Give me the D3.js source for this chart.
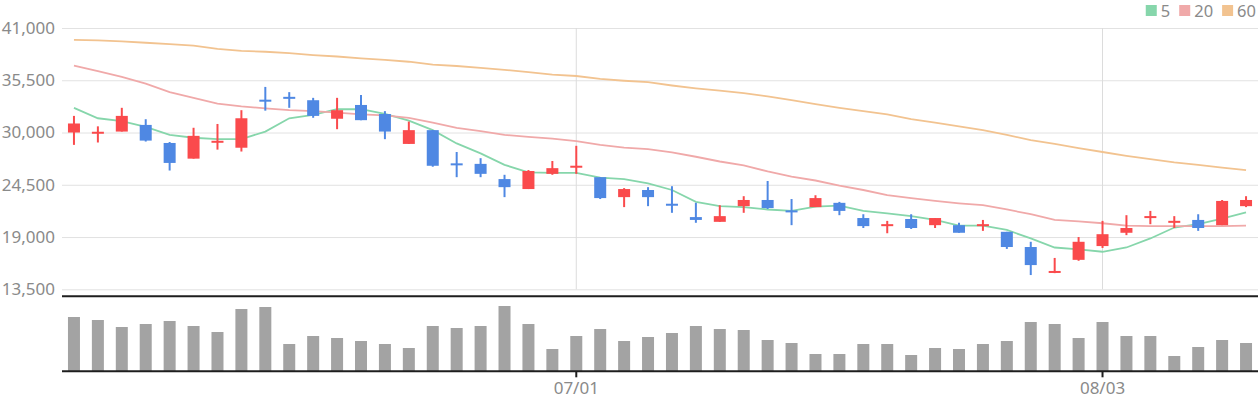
<!DOCTYPE html>
<html>
<head>
<meta charset="utf-8">
<script src="https://cdn.jsdelivr.net/npm/d3@7"></script>
<style>
  html, body { margin: 0; padding: 0; background: #fff; }
  svg { display: block; font-family: "Noto Sans", "Open Sans", sans-serif; }
</style>
</head>
<body>
<svg id="chart" width="1260" height="400"></svg>
<script>
const dates = [
  "06/02","06/03","06/04","06/05","06/08","06/09","06/10","06/11","06/12","06/15",
  "06/16","06/17","06/18","06/19","06/22","06/23","06/24","06/25","06/26","06/29",
  "06/30","07/01","07/02","07/06","07/07","07/08","07/09","07/10","07/13","07/14",
  "07/15","07/16","07/17","07/20","07/21","07/22","07/23","07/24","07/27","07/28",
  "07/29","07/30","07/31","08/03","08/04","08/05","08/06","08/07","08/10","08/11"
];
const opens = [
  30000,29950,30100,30800,28900,27250,28950,28400,33400,33700,
  33400,31450,32900,31950,28800,30250,26700,26700,25100,24050,
  25650,26350,25300,23200,23950,22450,21100,20600,22250,22900,
  21750,22150,22600,21000,20200,20900,20250,20250,20200,19550,
  17950,15300,16600,18050,19450,21050,20550,20800,20250,22250
];
const highs = [
  31750,30650,32600,31400,29000,30500,30900,32350,34800,34250,
  33650,33650,33950,32250,31150,30250,27950,27300,25550,26050,
  27000,28600,25300,24150,24250,24350,22600,22350,23300,24900,
  23000,23400,22700,21400,20700,21400,21000,20500,20800,19550,
  18500,16800,19000,20700,21300,21750,21200,21400,22900,23300
];
const lows = [
  28700,28950,30100,29050,26000,27250,28200,28000,32300,32600,
  31550,30350,31300,29300,28800,26400,25300,25300,23200,24050,
  25550,25650,23000,22150,22250,21550,20500,20600,21550,21950,
  20250,22150,21300,19950,19400,19850,19950,19450,19650,17750,
  15000,15200,16500,17850,19200,20350,19950,19650,20250,22150
];
const closes = [
  30950,30000,31750,29150,26800,29650,29100,31500,33300,33600,
  31750,32350,31300,30100,30250,26500,26600,25650,24250,25950,
  26250,26450,23100,24050,23200,22350,20800,21200,22900,22050,
  21650,23100,21750,20150,20300,19950,21000,19450,20300,17950,
  16050,15350,18500,19300,19950,21150,20650,19950,22800,22900
];
const volumes = [
  543000,513000,443000,473000,503000,453000,393000,623000,643000,273000,
  353000,333000,303000,273000,233000,453000,433000,453000,653000,473000,
  223000,353000,423000,303000,343000,383000,453000,423000,413000,313000,
  283000,173000,173000,273000,273000,163000,233000,223000,273000,303000,
  493000,473000,333000,493000,353000,353000,153000,243000,313000,283000
];
const ma5 = [
  32600,31500,31200,30600,29750,29450,29300,29300,30100,31500,
  31850,32450,32450,31950,31250,30250,28850,27800,26600,25800,
  25750,25750,25250,25100,24650,23950,22700,22250,22150,21900,
  21750,22200,22300,21750,21500,21200,20800,20200,20200,19750,
  18850,17900,17700,17450,17900,18850,20000,20350,20950,21600
];
const ma20 = [
  37050,36450,35850,35150,34250,33650,33050,32750,32550,32350,
  32250,32100,31900,31800,31550,31050,30500,30150,29750,29550,
  29350,29100,28700,28400,28250,27900,27450,26950,26550,25900,
  25350,24950,24400,23950,23400,23100,22800,22550,22350,21900,
  21400,20800,20650,20450,20200,20150,20150,20150,20150,20200
];
const ma60 = [
  39750,39700,39600,39450,39300,39150,38800,38600,38500,38350,
  38150,38000,37800,37650,37450,37150,37000,36800,36600,36350,
  36100,35950,35650,35450,35300,34950,34650,34400,34150,33800,
  33400,33000,32600,32250,31900,31400,31050,30650,30250,29750,
  29200,28800,28350,27950,27550,27200,26850,26600,26300,26050
];
const priceTicks = [13500, 19000, 24500, 30000, 35500, 41000];
const xTickLabels = ["07/01", "08/03"];
const maSeries = [
  { name: "5",  values: ma5,  color: "#86d6ab" },
  { name: "20", values: ma20, color: "#f0a9a9" },
  { name: "60", values: ma60, color: "#f2c390" }
];

const svg = d3.select("#chart");
const left = 62, right = 1258;
const priceTop = 28, priceBottom = 289.3;
const volTop = 297, volBottom = 371.3;
const upColor = "#fa4a4c", downColor = "#4f88e3";
const textColor = "#8a8a8a";

const x = d3.scaleBand().domain(dates).range([left, right]).padding(0);
const y = d3.scaleLinear().domain([13500, 41000]).range([priceBottom, priceTop]);
const yv = d3.scaleLinear().domain([0, 740000]).range([volBottom, volBottom - 74]);
const cx = d => x(d) + x.bandwidth() / 2;
const bodyW = 12;

// horizontal grid + y labels
const yAxis = d3.axisLeft(y).tickValues(priceTicks).tickSize(-(right - left)).tickPadding(7)
  .tickFormat(d3.format(","));
const gy = svg.append("g").attr("transform", `translate(${left},0)`).call(yAxis);
gy.select(".domain").remove();
gy.selectAll(".tick line").attr("stroke", "#e2e2e2").attr("stroke-width", 1);
gy.selectAll(".tick text").attr("fill", textColor).attr("font-size", 17)
  .attr("font-family", "'Noto Sans', sans-serif");

// vertical grid at month starts
svg.append("g").selectAll("line").data(xTickLabels).join("line")
  .attr("x1", d => cx(d)).attr("x2", d => cx(d))
  .attr("y1", priceTop).attr("y2", priceBottom)
  .attr("stroke", "#dcdcdc").attr("stroke-width", 1);

// moving average lines
const line = d3.line().x((v, i) => cx(dates[i])).y(v => y(v));
svg.append("g").selectAll("path").data(maSeries).join("path")
  .attr("d", s => line(s.values)).attr("fill", "none")
  .attr("stroke", s => s.color).attr("stroke-width", 1.8);

// candles
const idx = d3.range(dates.length);
const candles = svg.append("g").selectAll("g").data(idx).join("g")
  .attr("fill", i => closes[i] >= opens[i] ? upColor : downColor)
  .attr("stroke", i => closes[i] >= opens[i] ? upColor : downColor);
candles.append("line")
  .attr("x1", i => cx(dates[i])).attr("x2", i => cx(dates[i]))
  .attr("y1", i => y(highs[i])).attr("y2", i => y(lows[i]))
  .attr("stroke-width", 2);
candles.append("rect")
  .attr("x", i => cx(dates[i]) - bodyW / 2).attr("width", bodyW)
  .attr("y", i => {
    const t = y(Math.max(opens[i], closes[i])), b = y(Math.min(opens[i], closes[i]));
    return (b - t) < 2 ? (t + b) / 2 - 1 : t;
  })
  .attr("height", i => Math.max(2, y(Math.min(opens[i], closes[i])) - y(Math.max(opens[i], closes[i]))))
  .attr("stroke", "none");

// separator line below price panel
svg.append("line").attr("x1", left).attr("x2", right).attr("y1", 296.3).attr("y2", 296.3)
  .attr("stroke", "#1e1e1e").attr("stroke-width", 2);

// volume bars
svg.append("g").selectAll("rect").data(idx).join("rect")
  .attr("x", i => cx(dates[i]) - bodyW / 2).attr("width", bodyW)
  .attr("y", i => yv(volumes[i])).attr("height", i => volBottom - yv(volumes[i]))
  .attr("fill", "#a3a3a3");

// x axis
const xAxis = d3.axisBottom(x).tickValues(xTickLabels).tickSize(6).tickPadding(5);
const gx = svg.append("g").attr("transform", `translate(0,${volBottom})`).call(xAxis);
gx.select(".domain").attr("stroke", "#1e1e1e").attr("stroke-width", 2)
  .attr("d", `M${left},0H${right}`);
gx.selectAll(".tick line").attr("stroke", "#1e1e1e").attr("stroke-width", 2);
gx.selectAll(".tick text").attr("fill", textColor).attr("font-size", 17)
  .attr("font-family", "'Noto Sans', sans-serif");

// legend
const legend = svg.append("g");
let lx = 1256;
[...maSeries].reverse().forEach(s => {
  const t = legend.append("text").attr("y", 16.5).attr("fill", textColor)
    .attr("font-size", 16.5).attr("text-anchor", "end").attr("x", lx).text(s.name);
  const w = t.node().getComputedTextLength();
  legend.append("rect").attr("x", lx - w - 4 - 11).attr("y", 5).attr("width", 11).attr("height", 11)
    .attr("fill", s.color);
  lx = lx - w - 4 - 11 - 9;
});
</script>
</body>
</html>
